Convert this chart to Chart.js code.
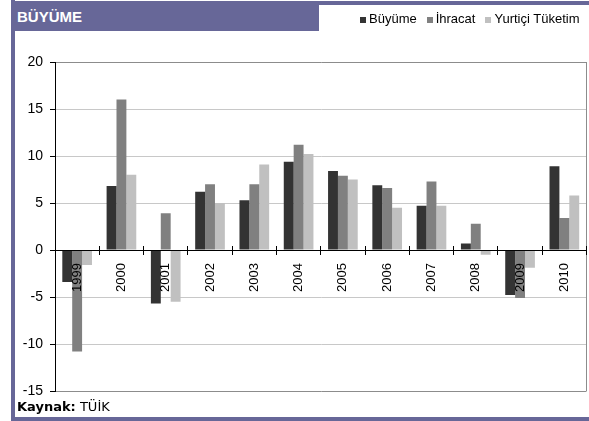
<!DOCTYPE html>
<html>
<head>
<meta charset="utf-8">
<script src="https://cdn.jsdelivr.net/npm/chart.js@4"></script>
<style>
  body { margin: 0; background: #fff; }
  #wrap { position: relative; width: 589px; height: 421px; overflow: hidden; background: #fff; }
  #chart { position: absolute; left: 0; top: 0; }
  .band { position: absolute; background: #676798; }
  #title {
    position: absolute; left: 11px; top: 1px; width: 308px; height: 30px;
    background: #676798; color: #fff;
    font: bold 15px "Liberation Sans", Arial, sans-serif;
    line-height: 31px; padding-left: 6px; box-sizing: border-box;
  }
  #legend {
    position: absolute; left: 360px; top: 11px;
    font: 13px "Liberation Sans", Arial, sans-serif; color: #000;
    display: flex; align-items: center; white-space: nowrap;
  }
  #legend span.box { display: inline-block; width: 6px; height: 6px; margin-right: 3px; margin-top: 2px; }
  #legend span.item { display: inline-flex; align-items: center; margin-right: 10px; }
  #footer {
    position: absolute; left: 17px; top: 399px;
    font: 13px "DejaVu Sans", Verdana, sans-serif; color: #000;
  }
</style>
</head>
<body>
<div id="wrap">
  <canvas id="chart" width="589" height="421"></canvas>
  <div class="band" style="left:11px;top:0;width:4px;height:421px"></div>
  <div class="band" style="left:319px;top:1px;width:270px;height:4px"></div>
  <div class="band" style="left:11px;top:417px;width:578px;height:4px"></div>
  <div id="title">BÜYÜME</div>
  <div id="legend"></div>
  <div id="footer"><b>Kaynak:</b> TÜİK</div>
</div>
<script>
// yearly % change
const years = ['1999', '2000', '2001', '2002', '2003', '2004', '2005', '2006', '2007', '2008', '2009', '2010'];
const buyume = [-3.4, 6.8, -5.7, 6.2, 5.3, 9.4, 8.4, 6.9, 4.7, 0.7, -4.8, 8.9];
const ihracat = [-10.8, 16.0, 3.9, 7.0, 7.0, 11.2, 7.9, 6.6, 7.3, 2.8, -5.1, 3.4];
const yurtici = [-1.6, 8.0, -5.5, 5.0, 9.1, 10.2, 7.5, 4.5, 4.7, -0.5, -1.9, 5.8];
const seriesNames = ['Büyüme', 'İhracat', 'Yurtiçi Tüketim'];
const seriesColors = ['#333333', '#808080', '#c0c0c0'];
const yTicks = [-15, -10, -5, 0, 5, 10, 15, 20];

// html legend
const legend = document.getElementById('legend');
seriesNames.forEach((name, i) => {
    const item = document.createElement('span');
    item.className = 'item';
    item.innerHTML = `<span class="box" style="background:${seriesColors[i]}"></span>${name}`;
    legend.appendChild(item);
});

// right edge of the plot frame
const frameRight = {
    id: 'frameRight',
    afterDatasetsDraw(chart) {
        const { ctx, chartArea } = chart;
        ctx.save();
        ctx.strokeStyle = '#8c8c8c';
        ctx.lineWidth = 1;
        ctx.beginPath();
        ctx.moveTo(Math.round(chartArea.right) - 0.5, chartArea.top);
        ctx.lineTo(Math.round(chartArea.right) - 0.5, chartArea.bottom);
        ctx.stroke();
        ctx.restore();
    }
};

const fontFamily = '"Liberation Sans", Arial, sans-serif';

new Chart(document.getElementById('chart'), {
    type: 'bar',
    data: {
        labels: years,
        datasets: [buyume, ihracat, yurtici].map((values, i) => ({
            label: seriesNames[i],
            data: values,
            backgroundColor: seriesColors[i],
            borderWidth: 0,
            categoryPercentage: 0.67,
            barPercentage: 1
        }))
    },
    options: {
        responsive: false,
        animation: false,
        layout: { padding: { left: 0, right: 1, top: 62, bottom: 30 } },
        plugins: {
            legend: { display: false },
            tooltip: { enabled: false }
        },
        scales: {
            x: {
                position: { y: 0 },
                offset: true,
                grid: {
                    drawOnChartArea: false,
                    drawTicks: true,
                    tickLength: 4,
                    tickColor: '#000',
                    offset: true,
                    z: 1
                },
                border: { color: '#000', width: 1, z: 1 },
                ticks: {
                    autoSkip: false,
                    minRotation: 90,
                    maxRotation: 90,
                    padding: 9,
                    color: '#000',
                    z: 1,
                    font: { family: fontFamily, size: 13 }
                }
            },
            // same category axis, only for the tick marks above the zero line
            xTop: {
                type: 'category',
                position: { y: 0 },
                offset: true,
                grid: {
                    drawOnChartArea: false,
                    drawTicks: true,
                    tickLength: -4,
                    tickColor: '#000',
                    offset: true,
                    z: 1
                },
                border: { display: false },
                ticks: { display: false }
            },
            y: {
                min: yTicks[0],
                max: yTicks[yTicks.length - 1],
                afterFit: (scale) => { scale.width = 55; },
                afterBuildTicks: (scale) => { scale.ticks = yTicks.map(v => ({ value: v })); },
                grid: {
                    color: (ctx) => {
                        const v = ctx.tick && ctx.tick.value;
                        if (v === 0) return '#000';
                        if (v === 20 || v === -15) return '#8c8c8c';
                        return '#c8c8c8';
                    },
                    tickColor: '#000',
                    tickLength: 5
                },
                border: { color: '#000', width: 1 },
                ticks: {
                    padding: 7,
                    color: '#000',
                    font: { family: fontFamily, size: 14 }
                }
            }
        }
    },
    plugins: [frameRight]
});
</script>
</body>
</html>
